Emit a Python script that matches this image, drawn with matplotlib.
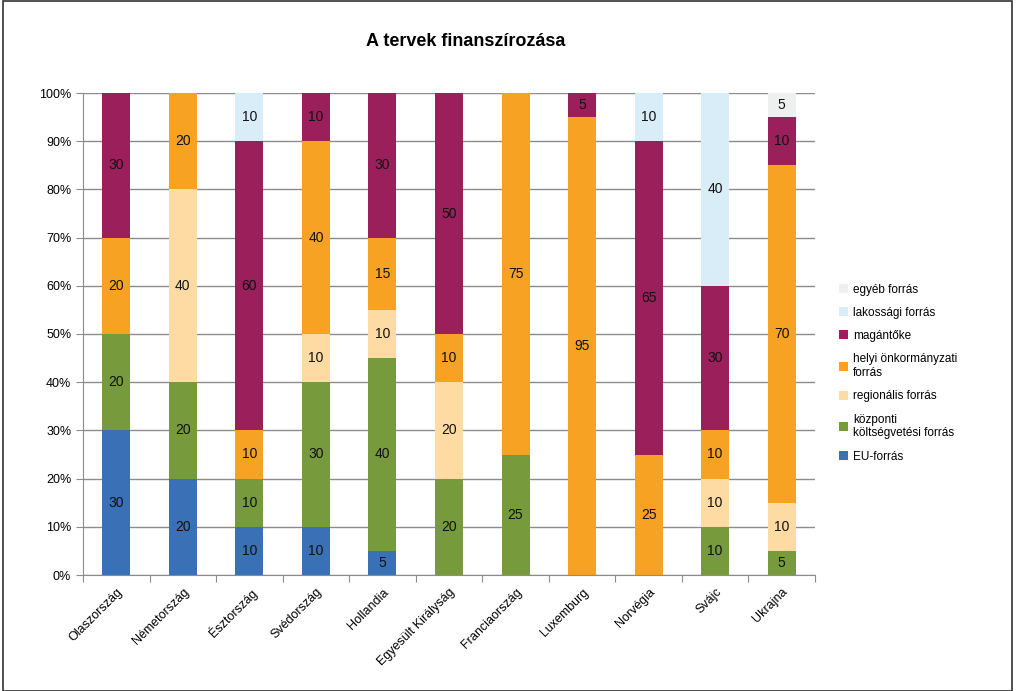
import numpy as np
import matplotlib.pyplot as plt
from matplotlib.patches import Rectangle

countries = ["Olaszország", "Németország", "Észtország", "Svédország", "Hollandia",
             "Egyesült Királyság", "Franciaország", "Luxemburg", "Norvégia", "Svájc", "Ukrajna"]

eu = [30, 20, 10, 10, 5, 0, 0, 0, 0, 0, 0]
kozponti = [20, 20, 10, 30, 40, 20, 25, 0, 0, 10, 5]
regionalis = [0, 40, 0, 10, 10, 20, 0, 0, 0, 10, 10]
helyi = [20, 20, 10, 40, 15, 10, 75, 95, 25, 10, 70]
magantoke = [30, 0, 60, 10, 30, 50, 0, 5, 65, 30, 10]
lakossagi = [0, 0, 10, 0, 0, 0, 0, 0, 10, 40, 0]
egyeb = [0, 0, 0, 0, 0, 0, 0, 0, 0, 0, 5]

series = [eu, kozponti, regionalis, helyi, magantoke, lakossagi, egyeb]
labels = ["EU-forrás", "központi\nköltségvetési forrás", "regionális forrás",
          "helyi önkormányzati\nforrás", "magántőke", "lakossági forrás", "egyéb forrás"]
colors = ["#3A70B6", "#779B3C", "#FDDBA2", "#F7A222", "#9B1F5B", "#D8EDF8", "#EEEFEF"]

plt.rcParams['font.family'] = ['Liberation Sans', 'DejaVu Sans']

fig = plt.figure(figsize=(10.16, 6.91), dpi=100)
ax = fig.add_axes([83 / 1016, 1 - 575 / 691, (815 - 83) / 1016, (575 - 93) / 691])

x = np.arange(len(countries))
bottom = np.zeros(len(countries))
handles = []
for vals, lab, col in zip(series, labels, colors):
    vals = np.array(vals, dtype=float)
    bars = ax.bar(x, vals, 0.42, bottom=bottom, color=col, label=lab, zorder=2)
    handles.append(bars)
    for xi, v, b in zip(x, vals, bottom):
        if v > 0:
            ax.text(xi, b + v / 2, "%d" % v, ha="center", va="center", fontsize=10, color="#111111", zorder=3)
    bottom += vals

ax.set_xlim(-0.5, len(countries) - 0.5)
ax.set_ylim(0, 100)
ax.set_yticks(np.arange(0, 101, 10))
ax.set_yticklabels(["%d%%" % v for v in range(0, 101, 10)], fontsize=9)
ax.yaxis.grid(True, color="#8c8c8c", linewidth=1, zorder=0)
ax.set_xticks(np.arange(-0.5, len(countries), 1), minor=False)
ax.set_xticklabels([])
ax.set_xticks(x, minor=True)
ax.set_xticklabels(countries, minor=True, rotation=45, ha="right", rotation_mode="anchor", fontsize=9)
ax.tick_params(axis="x", which="minor", length=0, pad=8)
ax.tick_params(axis="x", which="major", length=5, color="#8c8c8c")
ax.tick_params(axis="y", length=5, color="#8c8c8c")
for s in ["top", "right"]:
    ax.spines[s].set_visible(False)
ax.spines["left"].set_color("#8c8c8c")
ax.spines["bottom"].set_color("#8c8c8c")

fig.text(0.458, 1 - 42 / 691, "A tervek finanszírozása", ha="center", va="center", fontsize=13, fontweight="bold")

leg = fig.legend(handles[::-1], labels[::-1], loc="upper left", bbox_to_anchor=(828 / 1016, 1 - 273 / 691),
                 frameon=False, fontsize=8.5, handlelength=0.8, handleheight=0.8, labelspacing=0.95,
                 handletextpad=0.4)

fig.patches.append(Rectangle((0.003, 0.0), 0.993, 0.998, transform=fig.transFigure, fill=False,
                             edgecolor="#333333", linewidth=1.2))

plt.savefig("out.png", dpi=100)
